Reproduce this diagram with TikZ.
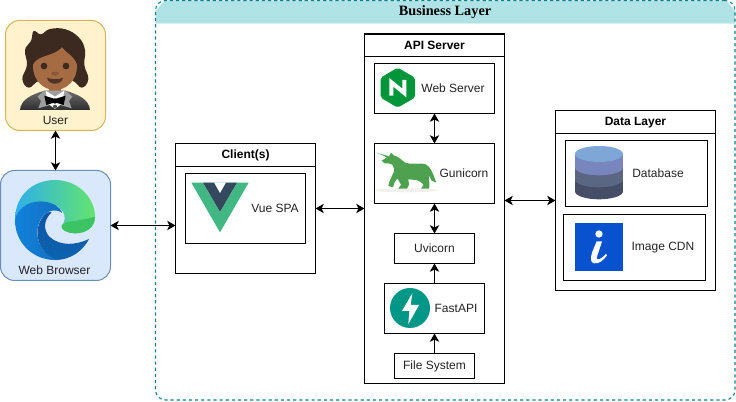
\documentclass[tikz,border=0pt]{standalone}
\usepackage{fontspec}
\setmainfont{Liberation Sans}
\newfontfamily\titleserif{Liberation Serif}
\usetikzlibrary{arrows.meta,shapes.geometric}
\definecolor{teal1}{HTML}{0E8088}
\definecolor{tealfill}{HTML}{B0E3E6}
\definecolor{tealline}{RGB}{214,240,242}
\definecolor{txt}{HTML}{222222}
\definecolor{ybord}{RGB}{214,182,86}
\definecolor{yfill}{RGB}{255,242,204}
\definecolor{bbord}{RGB}{108,142,191}
\definecolor{bfill}{RGB}{218,232,252}
\definecolor{suittop}{RGB}{110,110,110}
\definecolor{suitbot}{RGB}{45,45,45}
\definecolor{hair}{RGB}{60,42,33}
\definecolor{skin}{RGB}{165,108,67}
\definecolor{lapel}{RGB}{158,158,158}
\definecolor{stud}{RGB}{80,80,80}
\definecolor{nose}{RGB}{140,86,55}
\definecolor{mouth}{RGB}{80,50,40}
\definecolor{edgeA}{RGB}{45,175,235}
\definecolor{edgeB}{RGB}{100,228,110}
\definecolor{edgeC}{RGB}{60,196,100}
\definecolor{edgeD}{RGB}{16,130,220}
\definecolor{edgeE}{RGB}{20,110,190}
\definecolor{edgeF}{RGB}{15,84,165}
\definecolor{edgeG}{RGB}{12,100,175}
\definecolor{vueg}{RGB}{65,184,131}
\definecolor{vued}{RGB}{53,73,94}
\definecolor{nginx}{RGB}{0,150,57}
\definecolor{unishadow}{RGB}{240,240,236}
\definecolor{unicorn}{RGB}{78,162,79}
\definecolor{fastc}{RGB}{0,150,136}
\definecolor{dbA}{RGB}{69,78,102}
\definecolor{dbB}{RGB}{90,102,130}
\definecolor{dbC}{RGB}{120,134,189}
\definecolor{dbD}{RGB}{126,166,214}
\definecolor{cdnc}{RGB}{8,82,208}
\tikzset{
  px/.style={x=0.75pt,y=-0.75pt},
  plain/.style={draw=black,line width=0.8pt,inner sep=0pt,outer sep=0pt,fill=none},
  userbox/.style={draw=#1,line width=0.75pt,inner sep=0pt,outer sep=0pt,rounded corners=10.5pt},
  lbl/.style={text=txt,font=\fontsize{9}{11}\selectfont,inner sep=0pt},
  ttl/.style={text=black,font=\fontsize{9}{11}\selectfont\bfseries,inner sep=0pt},
  conn/.style={line width=0.85pt,black},
  >={Stealth[length=6.2pt,width=7pt,inset=1.6pt]},
  crop/.style 2 args={shift={(#1,#2)},scale=1/3}
}
\newcommand\pbox[6]{\path node[#6,minimum width={(#4-#2)*0.75pt},minimum height={(#5-#3)*0.75pt}] (#1) at ({(#2+#4)/2},{(#3+#5)/2}) {};}
\begin{document}
\begin{tikzpicture}[px]
\useasboundingbox (0,0) rectangle (736,402);
% business layer
\fill[tealfill] (155.5,23) -- (155.5,10) to[out=-90,in=180,looseness=0.6] (166,0.5) -- (725,0.5) to[out=0,in=-90,looseness=0.6] (735,10) -- (735,23) -- cycle;
\draw[tealline,line width=0.75pt] (155.5,23.5) -- (735,23.5);
\pbox{biz}{155.5}{0.5}{735}{400}{draw=teal1,line width=0.8pt,dash pattern=on 2.4pt off 2.2pt,rounded corners=7.5pt,inner sep=0pt,outer sep=0pt}
\node[font=\fontsize{10.7}{12}\selectfont\titleserif\bfseries,inner sep=0pt] (biztitle) at (445,12.5) {Business Layer};
% user
\pbox{user}{5.5}{20.5}{105.5}{130.5}{userbox=ybord,fill=yfill}
\pbox{browser}{0.5}{170.5}{110.5}{280.5}{userbox=bbord,fill=bfill}
\begin{scope}[crop={15}{25}]
  \fill[hair] plot[smooth cycle,tension=0.7] coordinates {(36,120) (30,75) (48,48) (56,18) (78,28) (105,12) (152,13) (192,38) (210,75) (208,120) (220,162) (200,188) (165,165) (80,165) (42,188) (22,162)};
  \shade[top color=suittop,bottom color=suitbot] (15,255) .. controls (18,225) and (45,210) .. (88,197) -- (152,197) .. controls (195,210) and (222,225) .. (225,255) -- cycle;
  \fill[skin] (120,125) ellipse [x radius=66,y radius=70];
  \fill[skin] (102,180) rectangle (138,205);
  \fill[hair] (50,130) .. controls (55,100) and (85,96) .. (105,88) .. controls (125,82) and (135,72) .. (142,66) .. controls (150,84) and (182,90) .. (190,130) .. controls (205,60) and (160,30) .. (120,30) .. controls (75,30) and (38,70) .. (50,130) -- cycle;
  \fill[lapel] (88,197) -- (68,215) -- (78,228) -- (70,250) -- (104,240) -- (120,240) -- (136,240) -- (170,250) -- (162,228) -- (172,215) -- (152,197) -- cycle;
  \fill[white] (92,197) -- (120,215) -- (148,197) -- (142,235) -- (120,252) -- (98,235) -- cycle;
  \fill[black] (88,212) -- (120,222) -- (152,212) -- (146,240) -- (120,232) -- (94,240) -- cycle;
  \fill[black] (120,228) circle [radius=8];
  \fill[stud] (120,245) circle [radius=6];
  \fill[hair] (87,123) circle [radius=10];
  \fill[hair] (153,123) circle [radius=10];
  \fill[nose] (120,146) ellipse [x radius=11,y radius=6];
  \fill[mouth] (96,158) .. controls (108,164) and (132,164) .. (144,158) .. controls (140,182) and (100,182) .. (96,158) -- cycle;
\end{scope}
\begin{scope}[crop={10}{175}]
  \shade[left color=edgeA,right color=edgeB] (15,135) .. controls (15,60) and (70,15) .. (135,15) .. controls (205,15) and (255,70) .. (255,125) .. controls (255,160) and (225,175) .. (195,175) .. controls (175,175) and (150,165) .. (155,152) .. controls (165,140) and (170,125) .. (155,105) .. controls (130,75) and (50,60) .. (15,135) -- cycle;
  \fill[edgeC] (155,152) .. controls (170,135) and (180,145) .. (255,125) .. controls (255,160) and (225,175) .. (195,175) .. controls (175,175) and (150,165) .. (155,152) -- cycle;
  \shade[left color=edgeD,right color=edgeE] (15,135) .. controls (25,90) and (70,75) .. (105,80) .. controls (130,84) and (150,95) .. (158,115) .. controls (140,100) and (115,105) .. (100,122) .. controls (70,155) and (75,225) .. (135,255) .. controls (70,255) and (15,205) .. (15,135) -- cycle;
  \shade[top color=edgeF,bottom color=edgeG] (103,120) .. controls (70,155) and (75,225) .. (135,255) .. controls (185,255) and (220,225) .. (237,192) .. controls (200,210) and (150,215) .. (118,185) .. controls (100,165) and (100,135) .. (125,112) .. controls (115,110) and (108,113) .. (103,120) -- cycle;
\end{scope}
\node[lbl] (userlbl) at (55.5,120) {User};
\node[lbl] (browserlbl) at (54.5,270.5) {Web Browser};
% client
\pbox{client}{175.5}{143.5}{315.5}{273.5}{plain}
\coordinate (clienthead) at (175.5,166.5);
\draw[line width=0.8pt] (clienthead) -- (clienthead -| client.east);
\node[ttl] (clientlbl) at (245.5,155) {Client(s)};
\pbox{vue}{185.5}{173.5}{305.5}{243.5}{plain}
\begin{scope}[crop={188}{178}]
  \fill[vueg] (10,14) -- (182,14) -- (96,163) -- cycle;
  \fill[white] (45,14) -- (147,14) -- (96,102) -- cycle;
  \fill[vued] (45,14) -- (78,14) -- (96,46) -- (114,14) -- (147,14) -- (96,102) -- cycle;
\end{scope}
\node[lbl] (vuelbl) at (275,208.5) {Vue SPA};
% API
\pbox{api}{364.5}{34}{504.5}{383.5}{plain}
\coordinate (apihead) at (364.5,56.5);
\draw[line width=0.8pt] (apihead) -- (apihead -| api.east);
\node[ttl] (apilbl) at (434.5,45.5) {API Server};
\pbox{web}{374.5}{63.5}{494.5}{113.5}{plain}
\begin{scope}[crop={360}{30}]
  \fill[nginx,rounded corners=1.5pt] (113,113) -- (165,143) -- (165,203) -- (113,233) -- (62,203) -- (62,143) -- cycle;
  \draw[white,line width=3.1pt,line join=miter] (94,197) -- (94,157) -- (133,189) -- (133,150);
\end{scope}
\node[lbl] (weblbl) at (453,88.5) {Web Server};
\pbox{guni}{374.5}{143.5}{494.5}{203.5}{plain}
\begin{scope}[crop={375}{148}]
  \fill[unishadow] (95,127) ellipse [x radius=95,y radius=6];
  \fill[unicorn] (4,14) -- (42,25) -- (48,14) -- (56,22) .. controls (70,25) and (80,36) .. (90,44) .. controls (105,50) and (125,44) .. (150,48) .. controls (166,54) and (172,72) .. (184,104) -- (170,98) -- (162,82) .. controls (160,95) and (166,108) .. (162,122) -- (138,122) -- (146,110) .. controls (138,102) and (128,96) .. (122,96) -- (100,94) -- (102,110) -- (96,122) -- (70,122) -- (78,110) -- (70,96) -- (66,92) .. controls (60,98) and (56,108) .. (54,118) -- (40,114) .. controls (42,100) and (48,90) .. (54,78) .. controls (60,68) and (58,58) .. (52,50) -- (40,46) -- (28,46) -- (20,38) -- (36,28) -- cycle;
\end{scope}
\node[lbl] (gunilbl) at (464,173.5) {Gunicorn};
\pbox{uvi}{394.5}{233.5}{474.5}{263.5}{plain}
\node[lbl] (uvilbl) at (434.5,248.5) {Uvicorn};
\pbox{fast}{384.5}{283.5}{484.5}{333.5}{plain}
\fill[fastc] (410,308) circle [radius=20];
\begin{scope}[crop={360}{210}]
  \fill[white] (157,250) -- (126,303) -- (148,303) -- (145,342) -- (177,285) -- (152,285) -- cycle;
\end{scope}
\node[lbl] (fastlbl) at (456,308.5) {FastAPI};
\pbox{fs}{394.5}{353.5}{474.5}{378.5}{plain}
\node[lbl] (fslbl) at (434.5,366.5) {File System};
% data layer
\pbox{data}{555.5}{110.5}{715.5}{290.5}{plain}
\coordinate (datahead) at (555.5,133.5);
\draw[line width=0.8pt] (datahead) -- (datahead -| data.east);
\node[ttl] (datalbl) at (635.5,122.5) {Data Layer};
\pbox{db}{565.5}{140.5}{707.5}{206.5}{plain}
\begin{scope}[crop={550}{100}]
  \fill[dbA] (75,162) rectangle (219,274);
  \fill[dbA] (147,274) ellipse [x radius=72,y radius=24];
  \fill[dbB] (75,162) rectangle (219,238);
  \fill[dbB] (147,238) ellipse [x radius=72,y radius=24];
  \fill[dbC] (75,162) rectangle (219,202);
  \fill[dbC] (147,202) ellipse [x radius=72,y radius=24];
  \fill[dbD] (147,162) ellipse [x radius=72,y radius=24];
\end{scope}
\node[lbl] (dblbl) at (658,173.5) {Database};
\pbox{cdn}{563.5}{214.5}{705.5}{280.5}{plain}
\begin{scope}[crop={550}{100}]
  \fill[cdnc] (75,369) rectangle (219,513);
  \fill[white] (147,402) circle [radius=11];
  \fill[white] (140,424) -- (156,424) .. controls (150,445) and (143,462) .. (140,474) .. controls (140,484) and (155,476) .. (168,462) -- (171,466) .. controls (160,482) and (146,492) .. (132,490) .. controls (120,488) and (122,472) .. (126,458) -- cycle;
\end{scope}
\node[lbl] (cdnlbl) at (663,247.5) {Image CDN};
% connectors
\draw[conn,<->] (user.south) -- (user.south |- browser.north);
\draw[conn,<->] (browser.east) -- (client.west |- browser.east);
\draw[conn,<->] (client.east) -- (api.west |- client.east);
\draw[conn,<->] (api.east |- data.west) -- (data.west);
\draw[conn,<->] (web.south) -- (guni.north);
\draw[conn,<->] (guni.south) -- (uvi.north);
\draw[conn,->] (fast.north) -- (uvi.south);
\draw[conn,->] (fs.north) -- (fast.south);
\end{tikzpicture}
\end{document}
